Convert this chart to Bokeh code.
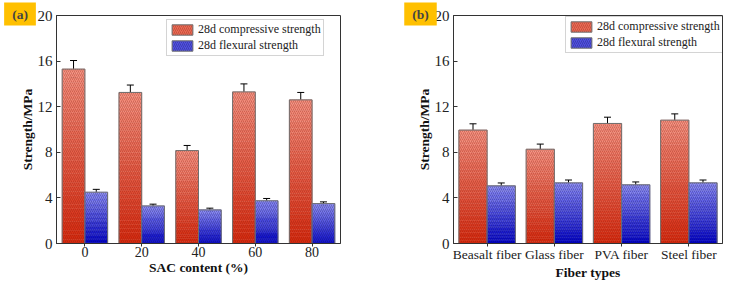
import numpy as np
from bokeh.plotting import figure
from bokeh.models import (ColumnDataSource, Whisker, Legend, LegendItem, Label,
                          FixedTicker, Range1d, TeeHead)
from bokeh.layouts import row
from bokeh.embed import file_html
from bokeh.resources import INLINE

# ---- data ----
sac_labels = ["0", "20", "40", "60", "80"]
sac_comp = [15.3, 13.25, 8.15, 13.3, 12.6]
sac_comp_err = [0.75, 0.65, 0.45, 0.7, 0.65]
sac_flex = [4.5, 3.3, 2.95, 3.75, 3.5]
sac_flex_err = [0.25, 0.15, 0.15, 0.2, 0.15]

fiber_labels = ["Beasalt fiber", "Glass fiber", "PVA fiber", "Steel fiber"]
fiber_comp = [9.95, 8.27, 10.53, 10.82]
fiber_comp_err = [0.55, 0.45, 0.55, 0.55]
fiber_flex = [5.06, 5.32, 5.15, 5.32]
fiber_flex_err = [0.25, 0.25, 0.25, 0.25]

series_names = ["28d compressive strength", "28d flexural strength"]
y_ticks = [0, 4, 8, 12, 16, 20]

FONT = "Liberation Serif"
RED_TOP, RED_BOT = (245, 146, 130), (214, 40, 14)
BLUE_TOP, BLUE_BOT = (140, 140, 246), (0, 0, 200)
HATCH = dict(hatch_pattern="right_diagonal_line", hatch_alpha=0.3,
             hatch_scale=4, hatch_weight=1)


def lerp(c1, c2, t):
    return "#%02x%02x%02x" % tuple(int(round(a + (b - a) * t)) for a, b in zip(c1, c2))


def gradient_bars(p, xs, vals, w, top_c, bot_c, hatch_color, n=40):
    gx, gb, gt, gc = [], [], [], []
    for x, v in zip(xs, vals):
        for k in range(n):
            gx.append(x)
            gb.append(v * k / n)
            gt.append(v * (k + 1) / n)
            gc.append(lerp(bot_c, top_c, (k + 0.5) / n))
    src = ColumnDataSource(dict(x=gx, bottom=gb, top=gt, color=gc))
    p.vbar(x="x", bottom="bottom", top="top", width=w, fill_color="color",
           line_color="color", line_width=0.5, source=src)
    p.vbar(x=xs, top=vals, bottom=0, width=w, fill_color=None,
           hatch_color=hatch_color, line_color="#6e6e6e", line_width=1, **HATCH)


def make_panel(labels, comp, comp_err, flex, flex_err, width, left, right,
               bw, tick_fs, xlabel, legend_xy, tag, tag_sx):
    n = len(labels)
    p = figure(width=width, height=283, output_backend="svg", toolbar_location=None,
               x_range=Range1d(-0.5, n - 0.5), y_range=Range1d(0, 20),
               min_border_left=left, min_border_right=right,
               min_border_top=15, min_border_bottom=40)
    p.grid.visible = False
    p.outline_line_color = "#333333"
    p.outline_line_width = 1
    p.background_fill_color = "white"
    p.border_fill_color = "white"

    xc = np.arange(n)
    xr = list(xc - bw / 2)
    xb = list(xc + bw / 2)
    gradient_bars(p, xr, comp, bw, RED_TOP, RED_BOT, "#7a1a08")
    gradient_bars(p, xb, flex, bw, BLUE_TOP, BLUE_BOT, "#10104a")

    for xs, v, e in ((xr, comp, comp_err), (xb, flex, flex_err)):
        src = ColumnDataSource(dict(x=xs, up=[a + b for a, b in zip(v, e)],
                                    lo=[a - b for a, b in zip(v, e)]))
        p.add_layout(Whisker(source=src, base="x", upper="up", lower="lo",
                             line_color="black", line_width=1,
                             upper_head=TeeHead(size=7, line_color="black", line_width=1),
                             lower_head=TeeHead(size=7, line_color="black", line_width=1)))

    # axes
    p.xaxis.ticker = FixedTicker(ticks=list(range(n)))
    p.xaxis.major_label_overrides = {i: l for i, l in enumerate(labels)}
    p.yaxis.ticker = FixedTicker(ticks=y_ticks)
    for axs in (p.xaxis, p.yaxis):
        axs.axis_line_color = "#333333"
        axs.major_tick_line_color = "#333333"
        axs.minor_tick_line_color = None
        axs.major_label_text_font = FONT
        axs.major_label_text_color = "#222222"
        axs.axis_label_text_font = FONT
        axs.axis_label_text_font_style = "bold"
        axs.axis_label_text_font_size = "13.5px"
        axs.axis_label_text_color = "#111111"
    p.xaxis.major_tick_in = 0
    p.xaxis.major_tick_out = 3
    p.yaxis.major_tick_in = 4
    p.yaxis.major_tick_out = 0
    p.xaxis.major_label_text_font_size = tick_fs
    p.yaxis.major_label_text_font_size = "15px"
    p.xaxis.major_label_standoff = 0
    p.yaxis.major_label_standoff = 4
    p.xaxis.axis_label = xlabel
    p.yaxis.axis_label = "Strength/MPa"
    p.xaxis.axis_label_standoff = 0
    p.yaxis.axis_label_standoff = 0

    # legend (proxy renderers drawn outside the visible range)
    proxy = dict(x=[-10.0], top=[1.0])
    r1 = p.vbar(x="x", top="top", width=0.1, source=ColumnDataSource(proxy),
                fill_color="#ea6a55", line_color="#6e6e6e",
                hatch_color="#7a1a08", **HATCH)
    r2 = p.vbar(x="x", top="top", width=0.1, source=ColumnDataSource(proxy),
                fill_color="#5050e0", line_color="#6e6e6e",
                hatch_color="#10104a", **HATCH)
    leg = Legend(items=[LegendItem(label=series_names[0], renderers=[r1]),
                        LegendItem(label=series_names[1], renderers=[r2])],
                 location=legend_xy, orientation="vertical")
    leg.label_text_font = FONT
    leg.label_text_font_size = "12px"
    leg.label_text_line_height = 0.9
    leg.label_text_color = "#222222"
    leg.glyph_width = 26
    leg.glyph_height = 13
    leg.label_height = 13
    leg.label_standoff = 3
    leg.spacing = 1
    leg.padding = 2
    leg.margin = 0
    leg.border_line_color = "#aaaaaa"
    leg.border_line_width = 1
    leg.background_fill_alpha = 1
    p.add_layout(leg)

    # panel tag in the "above" side panel (not clipped by the frame);
    # a thick yellow border enlarges the box without enlarging the panel
    p.add_layout(Label(x=tag_sx, y=1.5, x_units="screen", y_units="screen",
                       text=tag, text_font=FONT, text_font_style="bold",
                       text_font_size="13.5px", text_line_height=0.6,
                       text_align="center", text_baseline="middle",
                       background_fill_color="#FFC000", padding=(4, 0),
                       border_line_color="#FFC000", border_line_width=8,
                       border_line_join="miter"), "above")
    return p


pa = make_panel(sac_labels, sac_comp, sac_comp_err, sac_flex, sac_flex_err,
                width=370, left=56, right=30, bw=0.4,
                tick_fs="14px", xlabel="SAC content (%)", legend_xy=(110, 187),
                tag="(a)", tag_sx=-36.5)
pb = make_panel(fiber_labels, fiber_comp, fiber_comp_err, fiber_flex, fiber_flex_err,
                width=365, left=83, right=13, bw=0.42,
                tick_fs="13.5px", xlabel="Fiber types", legend_xy=(112, 190),
                tag="(b)", tag_sx=-33)

layout = row(pa, pb)
open("out.html", "w").write(file_html(layout, INLINE))
